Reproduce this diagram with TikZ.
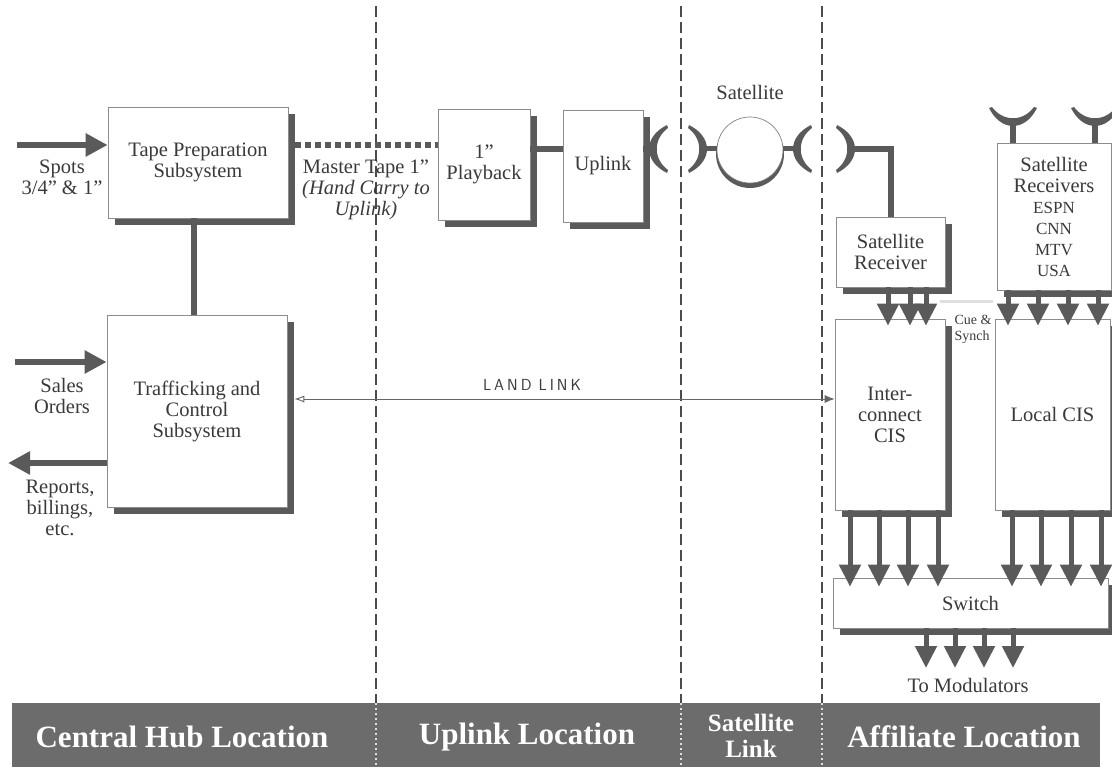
\documentclass[tikz,border=0pt]{standalone}
\usepackage{fontspec}
\setmainfont{Liberation Serif}
\usetikzlibrary{shadows,arrows.meta,calc}
\definecolor{shd}{HTML}{5A5A5A}
\definecolor{txt}{HTML}{3A3A3A}
\definecolor{bandc}{HTML}{6C6C6C}
\newcommand{\chn}[1]{{\fontsize{17}{20}\selectfont #1}}
\begin{document}
\begin{tikzpicture}[x=1pt,y=-1pt,
  blk/.style={draw=black!45, line width=0.7pt, fill=white, align=center, text=txt,
    font=\fontsize{20.5}{21}\selectfont, inner sep=2pt,
    drop shadow={shadow xshift=7pt, shadow yshift=-7pt, fill=shd, opacity=1}},
  conn/.style={draw=shd, line width=6pt},
  dotconn/.style={draw=shd, line width=6pt, dash pattern=on 6pt off 4pt},
  fat/.style={draw=shd, fill=shd, line width=6pt, -{Triangle[length=22pt,width=22pt]}},
  down/.style={draw=shd, fill=shd, line width=5pt, -{Triangle[length=22pt,width=21pt]}, shorten >=-7pt},
  lbl/.style={align=center, text=txt, font=\fontsize{20.5}{21}\selectfont},
  sepline/.style={draw=black!70, line width=1.3pt, dash pattern=on 11pt off 5pt},
  bandsep/.style={draw=white!75!gray, line width=1.3pt, dash pattern=on 2pt off 3pt},
  bandtxt/.style={text=white, font=\bfseries\fontsize{31}{31}\selectfont, align=center},
  land/.style={draw=black!60, line width=0.9pt, {Latex[open,length=10pt,width=7pt]}-{Latex[length=10pt,width=8pt]}},
  dish/.pic={\fill[shd] (10,-24) .. controls (-14,-12) and (-14,12) .. (10,24) -- (11,21) .. controls (-4,10) and (-4,-10) .. (11,-21) -- cycle;}
]
\useasboundingbox (0,0) rectangle (1112,770);

% location separators
\draw[sepline] (376,6) -- (376,703);
\draw[sepline] (681,6) -- (681,703);
\draw[sepline] (822,6) -- (822,703);

% boxes
\node[blk, minimum width=180pt, minimum height=111pt] (tape) at (198,162.5) {Tape Preparation\\Subsystem};
\node[blk, minimum width=180pt, minimum height=192pt] (traf) at (197,411) {Trafficking and\\Control\\Subsystem};
\node[blk, minimum width=92pt, minimum height=111pt] (play) at (484,164.5) {1"\\Playback};
\node[blk, minimum width=80pt, minimum height=112pt] (upl) at (603,166) {Uplink};
\node[blk, minimum width=109pt, minimum height=70pt] (srx) at (890.5,252) {Satellite\\Receiver};
\node[blk, minimum width=114pt, minimum height=147pt] (srxs) at (1054,216.5) {Satellite\\Receivers\\\chn{ESPN}\\\chn{CNN}\\\chn{MTV}\\\chn{USA}};
\node[blk, minimum width=110pt, minimum height=191pt] (icis) at (890,414.5) {Inter-\\connect\\CIS};
\node[blk, minimum width=115pt, minimum height=191pt] (lcis) at (1052.5,414.5) {Local CIS};
\node[blk, minimum width=275pt, minimum height=50pt] (sw) at (970.5,603) {Switch};

% satellite
\fill[shd] (750,154) circle (34);
\node[circle, draw=black!50, fill=white, line width=0.7pt, minimum size=66pt, inner sep=0pt] (sat) at (750,150) {};
\node[lbl] (satl) at (750,92) {Satellite};

% helper rows
\coordinate (row0) at (0,145);
\coordinate (row1) at (0,149);
\coordinate (ll) at (0,399);

% left side inputs / outputs
\coordinate (spin) at (17,145);
\coordinate (salin) at (15,362);
\coordinate (repout) at (8,463);
\draw[fat] (spin) -- (spin -| tape.west);
\draw[fat] (salin) -- (salin -| traf.west);
\draw[fat] (repout -| traf.west) -- (repout);
\node[lbl] (spots) at (62,177) {Spots\\3/4" \& 1"};
\node[lbl] (sales) at (62,396) {Sales\\Orders};
\node[lbl] (reports) at (60,508) {Reports,\\billings,\\etc.};

% tape -> trafficking
\draw[conn] ([xshift=-4pt]tape.south) -- ([xshift=-4pt]tape.south |- traf.north);

% master tape hand carry
\draw[dotconn] ([xshift=7pt]tape.east |- row0) -- (play.west |- row0);
\node[lbl] (mtl) at (366,190) {Master Tape 1"\\\textit{(Hand Carry to}\\\textit{Uplink)}};

% playback -> uplink -> dish
\draw[conn] (play.east |- row1) -- (upl.west |- row1);
\coordinate (d1) at (649,149);
\draw[conn] (upl.east |- row1) -- (d1);
\pic at (657,149) {dish};

% satellite dishes
\coordinate (d2) at (707,149);
\coordinate (d3) at (793,149);
\draw[conn, line width=5pt] (d2) -- (sat.west |- row1);
\draw[conn, line width=5pt] (sat.east |- row1) -- (d3);
\pic[rotate=180] at (699,149) {dish};
\pic at (801,149) {dish};

% affiliate receive dish
\coordinate (d4) at (853,149);
\draw[conn] (d4) -| (srx.north);
\pic[rotate=180] at (847,149) {dish};

% receivers dishes
\coordinate (dA) at (1013,124);
\coordinate (dB) at (1095,124);
\draw[conn] (dA) -- (dA |- srxs.north);
\draw[conn] (dB) -- (dB |- srxs.north);
\pic[rotate=90] at (1013,118) {dish};
\pic[rotate=90] at (1095,118) {dish};

% cue & synch
\draw[gray!25, line width=3pt] (940,302) -- (993,302);
\node[text=txt, font=\fontsize{14}{16}\selectfont, align=left] (cue) at (973,329) {Cue \&\\Synch};

% receivers -> CIS
\foreach \x in {888,910,926} \draw[down] (srx.south -| \x,0) -- (icis.north -| \x,0);
\foreach \x in {1008,1038,1068,1098} \draw[down] (srxs.south -| \x,0) -- (lcis.north -| \x,0);

% CIS -> switch
\foreach \x in {850,879,908,938} \draw[down, shorten >=-9pt] (icis.south -| \x,0) -- (sw.north -| \x,0);
\foreach \x in {1012,1041,1071,1101} \draw[down, shorten >=-9pt] (lcis.south -| \x,0) -- (sw.north -| \x,0);

% switch -> modulators
\foreach \x [count=\i] in {926,955,984,1013} {
  \coordinate (m\i) at (\x,668);
  \draw[down, shorten >=0pt] (sw.south -| m\i) -- (m\i);
}
\node[lbl] (mod) at (968,685) {To Modulators};

% land link
\draw[land] ([xshift=7pt]traf.east |- ll) -- (icis.west |- ll);
\node[text=txt, font=\sffamily\fontsize{16}{16}\selectfont] (landl) at (532,385) {L\hspace{3pt}A\hspace{3pt}N\hspace{3pt}D\hspace{7pt}L\hspace{3pt}I\hspace{3pt}N\hspace{3pt}K};

% bottom band
\fill[bandc] (12,703) rectangle (1100,767);
\draw[bandsep] (376,703) -- (376,767);
\draw[bandsep] (681,703) -- (681,767);
\draw[bandsep] (822,703) -- (822,767);
\node[bandtxt] (bc) at (182,737) {Central Hub Location};
\node[bandtxt] (bu) at (527,737) {Uplink Location};
\node[bandtxt, font=\bfseries\fontsize{25}{26}\selectfont] (bs) at (751,736) {Satellite\\Link};
\node[bandtxt] (ba) at (964,737) {Affiliate Location};
\end{tikzpicture}
\end{document}
